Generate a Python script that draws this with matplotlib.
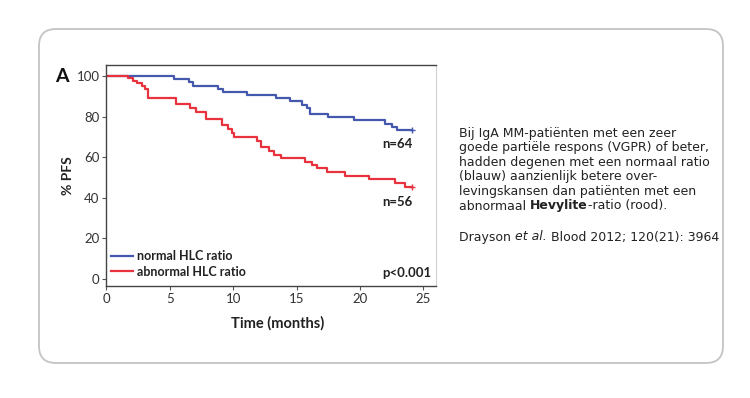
import matplotlib
matplotlib.use("Agg")
import matplotlib.pyplot as plt
from matplotlib.patches import FancyBboxPatch

# Kaplan-Meier steps (months, % PFS)
normal_t = [0, 5.3, 6.5, 6.8, 8.8, 9.2, 11.1, 13.4, 14.5, 15.4, 15.8, 16.1,
            17.5, 19.5, 22.0, 22.5, 22.95, 24.1]
normal_s = [100, 98.4, 96.9, 95.3, 93.8, 92.2, 90.6, 89.1, 87.5, 85.9, 84.4,
            81.3, 79.7, 78.1, 76.6, 75.0, 73.4, 73.4]
abnormal_t = [0, 1.7, 2.1, 2.4, 2.8, 3.0, 3.3, 5.5, 6.6, 7.1, 7.85, 9.1, 9.6,
              9.9, 10.1, 11.9, 12.2, 12.8, 13.2, 13.8, 15.7, 16.2, 16.6, 17.4,
              18.8, 20.7, 22.8, 23.6, 24.1]
abnormal_s = [100, 98.9, 97.5, 96.4, 95.0, 93.6, 89.3, 86.0, 84.4, 82.4, 78.7,
              75.9, 73.8, 71.8, 70.2, 68.1, 65.2, 63.2, 61.1, 59.5, 57.8, 56.2,
              54.5, 52.9, 50.7, 49.1, 47.1, 45.5, 45.5]
series_labels = ["normal HLC ratio", "abnormal HLC ratio"]
n_labels = ["n=64", "n=56"]
x_ticks = [0, 5, 10, 15, 20, 25]
y_ticks = [0, 20, 40, 60, 80, 100]

para_lines = [
    "Bij IgA MM-patiënten met een zeer",
    "goede partiële respons (VGPR) of beter,",
    "hadden degenen met een normaal ratio",
    "(blauw) aanzienlijk betere over-",
    "levingskansen dan patiënten met een",
]

W, H = 750, 398
BLUE = "#4459ad"
RED = "#e8333f"
DARK = "#333333"
CHART_FONT = "Lato"
PARA_FONT = "DejaVu Sans"
PARA_SIZE = 9.0

fig = plt.figure(figsize=(W / 100, H / 100), dpi=100)

# pixel-coordinate overlay for the card and free text
bg = fig.add_axes([0, 0, 1, 1], zorder=-1)
bg.set_xlim(0, W)
bg.set_ylim(H, 0)
bg.set_axis_off()
bg.add_patch(FancyBboxPatch((39, 29), 684, 334,
                            boxstyle="round,pad=0,rounding_size=17",
                            fc="white", ec="#c4c4c4", lw=1.3))

# chart axes
ax = fig.add_axes([106.5 / W, 1 - 286 / H, 330 / W, 221 / H])
ax.step(normal_t, normal_s, where="post", color=BLUE, lw=1.6,
        label=series_labels[0])
ax.step(abnormal_t, abnormal_s, where="post", color=RED, lw=1.6,
        label=series_labels[1])
ax.plot(normal_t[-1], normal_s[-1], marker="+", color=BLUE, ms=5, mew=1)
ax.plot(abnormal_t[-1], abnormal_s[-1], marker="+", color=RED, ms=5, mew=1)

ax.set_xlim(0, 26.05)
ax.set_ylim(-3.4, 105.4)
ax.set_xticks(x_ticks)
ax.set_yticks(y_ticks)
ax.tick_params(length=3, width=0.8, color="#555555", labelcolor=DARK,
               labelsize=9.5, pad=2)
for lab in ax.get_xticklabels() + ax.get_yticklabels():
    lab.set_family(CHART_FONT)
for side in ["left", "bottom", "top"]:
    ax.spines[side].set_color("#444444")
    ax.spines[side].set_linewidth(1.0)
ax.spines["right"].set_color("#d0d0d0")

ax.set_xlabel("Time (months)", fontsize=10.5, fontweight="bold",
              family=CHART_FONT, color="#222222", labelpad=6)
ax.xaxis.set_label_coords(0.52, -0.135)
ax.set_ylabel("% PFS", fontsize=10, fontweight="bold", family=CHART_FONT,
              color="#222222", labelpad=2)

leg = ax.legend(loc="lower left", bbox_to_anchor=(0.0, 0.015), frameon=False,
                handlelength=1.75, handletextpad=0.3, labelspacing=0.3,
                borderaxespad=0,
                prop={"family": CHART_FONT, "weight": "bold", "size": 9})
for t in leg.get_texts():
    t.set_color("#222222")

ax.text(0.985, 0.06, "p<0.001", transform=ax.transAxes, ha="right",
        va="center", fontsize=9.5, fontweight="bold", family=CHART_FONT,
        color="#222222")
ax.text(normal_t[-1] - 1.1, normal_s[-1] - 7, n_labels[0], ha="center",
        va="center", fontsize=9.5, fontweight="bold", family=CHART_FONT,
        color="#222222")
ax.text(abnormal_t[-1] - 1.1, abnormal_s[-1] - 7.5, n_labels[1], ha="center",
        va="center", fontsize=9.5, fontweight="bold", family=CHART_FONT,
        color="#222222")

bg.text(62, 77, "A", fontsize=14, fontweight="bold", family=CHART_FONT,
        ha="center", va="center", color="#111111")

# paragraph on the right
x0, y0, step = 459, 133, 14.6
for i, line in enumerate(para_lines):
    bg.text(x0, y0 + i * step, line, fontsize=PARA_SIZE, family=PARA_FONT,
            color="#222222", va="center")
t1 = bg.text(x0, y0 + 5 * step, "abnormaal ", fontsize=PARA_SIZE,
             family=PARA_FONT, color="#222222", va="center")
t2 = bg.annotate("Hevylite", xy=(1, 0), xycoords=t1, va="bottom",
                 fontsize=PARA_SIZE, family=PARA_FONT, fontweight="bold",
                 color="#222222")
bg.annotate("-ratio (rood).", xy=(1, 0), xycoords=t2, va="bottom",
            fontsize=PARA_SIZE, family=PARA_FONT, color="#222222")

r1 = bg.text(x0, 237, "Drayson ", fontsize=PARA_SIZE, family=PARA_FONT,
             color="#222222", va="center")
r2 = bg.annotate("et al.", xy=(1, 0), xycoords=r1, va="bottom",
                 fontsize=PARA_SIZE, family=PARA_FONT, style="italic",
                 color="#222222")
bg.annotate(" Blood 2012; 120(21): 3964", xy=(1, 0), xycoords=r2,
            va="bottom", fontsize=PARA_SIZE, family=PARA_FONT,
            color="#222222")

fig.savefig("out.png", dpi=100, facecolor="white")
